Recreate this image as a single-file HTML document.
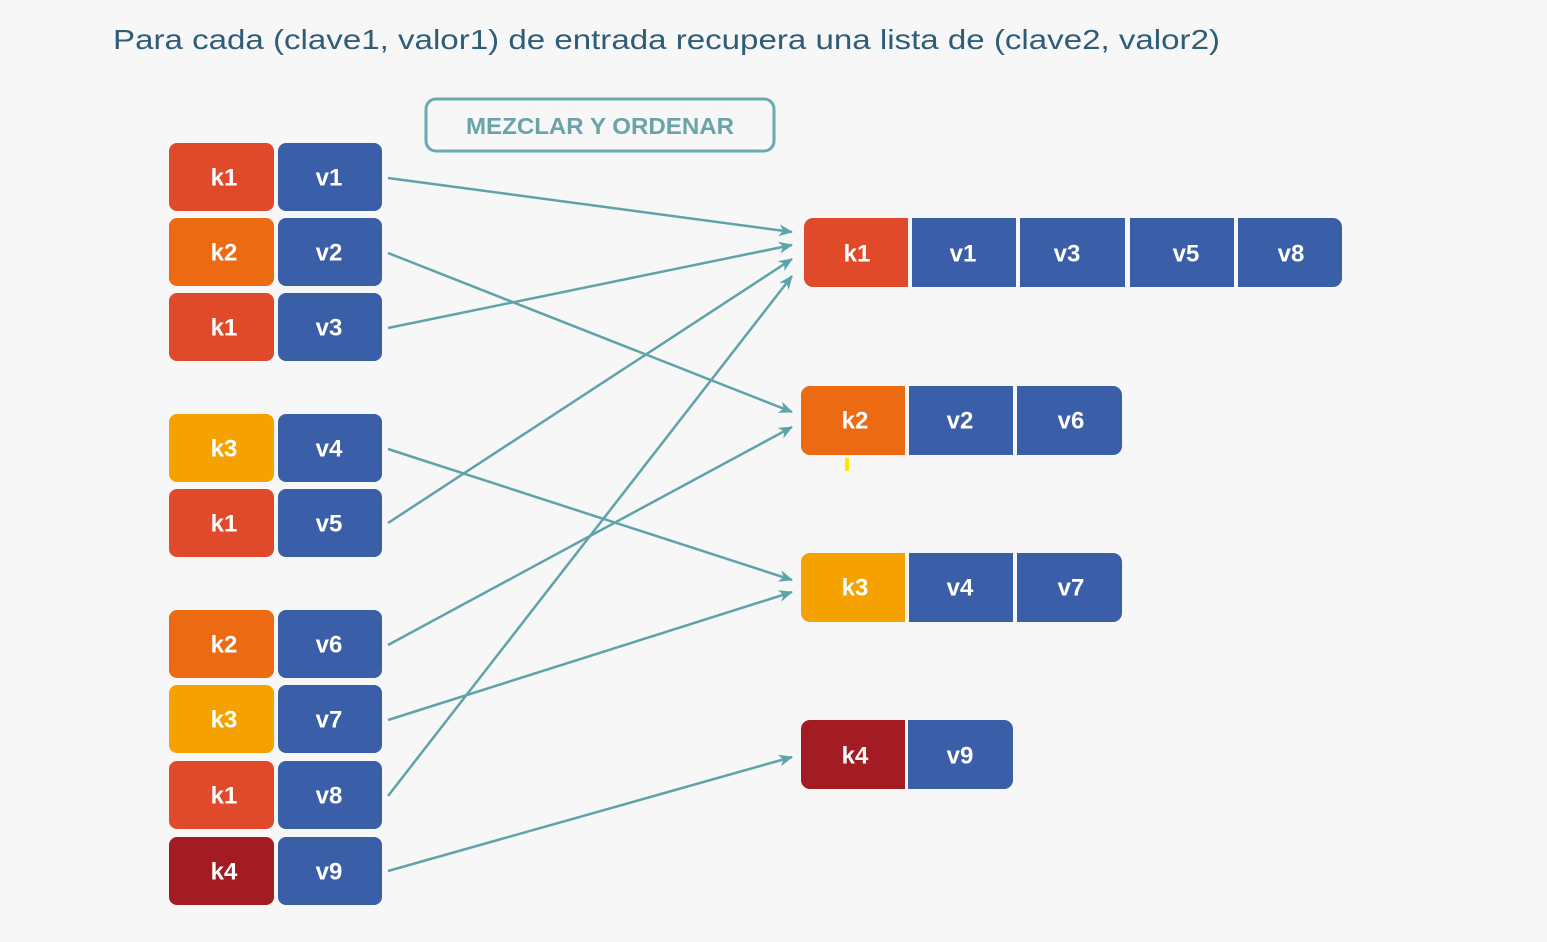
<!DOCTYPE html>
<html><head><meta charset="utf-8"><style>
html,body{margin:0;padding:0;background:#f7f7f7;}
svg{display:block}
.t{font-family:"Liberation Sans",sans-serif;font-weight:bold;font-size:24px;fill:#fff;text-anchor:middle;dominant-baseline:central}
</style></head><body>
<svg width="1547" height="942" viewBox="0 0 1547 942" xmlns="http://www.w3.org/2000/svg">
<rect width="1547" height="942" fill="#f7f7f7"/>
<defs>
<marker id="a" markerWidth="14" markerHeight="12" refX="13" refY="6" orient="auto" markerUnits="userSpaceOnUse">
<path d="M0,0 L14,6 L0,12 L4,6 Z" fill="#5fa3aa"/></marker>
</defs>
<text x="113" y="49" font-family="Liberation Sans,sans-serif" font-size="28" fill="#2f5d78" textLength="1107" lengthAdjust="spacingAndGlyphs">Para cada (clave1, valor1)  de entrada recupera una lista de (clave2, valor2)</text>
<rect x="426" y="99" width="348" height="52" rx="10" fill="none" stroke="#6aaab0" stroke-width="3"/>
<text x="600" y="126" font-family="Liberation Sans,sans-serif" font-weight="bold" font-size="23" fill="#6aa3a8" text-anchor="middle" dominant-baseline="central" textLength="268" lengthAdjust="spacingAndGlyphs">MEZCLAR Y ORDENAR</text>

<g fill="none" stroke="#5fa3aa" stroke-width="2.5" marker-end="url(#a)">
<line x1="388" y1="178" x2="792" y2="232"/>
<line x1="388" y1="328" x2="792" y2="245"/>
<line x1="388" y1="523" x2="792" y2="259"/>
<line x1="388" y1="796" x2="792" y2="276"/>
<line x1="388" y1="253" x2="792" y2="412"/>
<line x1="388" y1="645" x2="792" y2="427"/>
<line x1="388" y1="449" x2="792" y2="580"/>
<line x1="388" y1="720" x2="792" y2="592"/>
<line x1="388" y1="871" x2="792" y2="757"/>
</g>

<!-- left rows -->
<g>
<rect x="169" y="143" width="105" height="68" rx="8" fill="#e04a2b"/><rect x="278" y="143" width="104" height="68" rx="8" fill="#3b5ea8"/>
<rect x="169" y="218" width="105" height="68" rx="8" fill="#ec6a12"/><rect x="278" y="218" width="104" height="68" rx="8" fill="#3b5ea8"/>
<rect x="169" y="293" width="105" height="68" rx="8" fill="#e04a2b"/><rect x="278" y="293" width="104" height="68" rx="8" fill="#3b5ea8"/>
<rect x="169" y="414" width="105" height="68" rx="8" fill="#f5a200"/><rect x="278" y="414" width="104" height="68" rx="8" fill="#3b5ea8"/>
<rect x="169" y="489" width="105" height="68" rx="8" fill="#e04a2b"/><rect x="278" y="489" width="104" height="68" rx="8" fill="#3b5ea8"/>
<rect x="169" y="610" width="105" height="68" rx="8" fill="#ec6a12"/><rect x="278" y="610" width="104" height="68" rx="8" fill="#3b5ea8"/>
<rect x="169" y="685" width="105" height="68" rx="8" fill="#f5a200"/><rect x="278" y="685" width="104" height="68" rx="8" fill="#3b5ea8"/>
<rect x="169" y="761" width="105" height="68" rx="8" fill="#e04a2b"/><rect x="278" y="761" width="104" height="68" rx="8" fill="#3b5ea8"/>
<rect x="169" y="837" width="105" height="68" rx="8" fill="#a31c23"/><rect x="278" y="837" width="104" height="68" rx="8" fill="#3b5ea8"/>
</g>
<g class="t">
<text class="t" x="224" y="178">k1</text><text class="t" x="329" y="178">v1</text>
<text class="t" x="224" y="253">k2</text><text class="t" x="329" y="253">v2</text>
<text class="t" x="224" y="328">k1</text><text class="t" x="329" y="328">v3</text>
<text class="t" x="224" y="449">k3</text><text class="t" x="329" y="449">v4</text>
<text class="t" x="224" y="524">k1</text><text class="t" x="329" y="524">v5</text>
<text class="t" x="224" y="645">k2</text><text class="t" x="329" y="645">v6</text>
<text class="t" x="224" y="720">k3</text><text class="t" x="329" y="720">v7</text>
<text class="t" x="224" y="796">k1</text><text class="t" x="329" y="796">v8</text>
<text class="t" x="224" y="872">k4</text><text class="t" x="329" y="872">v9</text>
</g>

<!-- right rows -->
<defs>
<clipPath id="c1"><rect x="804" y="218" width="538" height="69" rx="9"/></clipPath>
<clipPath id="c2"><rect x="801" y="386" width="321" height="69" rx="9"/></clipPath>
<clipPath id="c3"><rect x="801" y="553" width="321" height="69" rx="9"/></clipPath>
<clipPath id="c4"><rect x="801" y="720" width="212" height="69" rx="9"/></clipPath>
</defs>
<g clip-path="url(#c1)">
<rect x="804" y="218" width="104" height="69" fill="#e04a2b"/>
<rect x="912" y="218" width="104" height="69" fill="#3b5ea8"/>
<rect x="1020" y="218" width="105" height="69" fill="#3b5ea8"/>
<rect x="1130" y="218" width="104" height="69" fill="#3b5ea8"/>
<rect x="1238" y="218" width="104" height="69" fill="#3b5ea8"/>
</g>
<g clip-path="url(#c2)">
<rect x="801" y="386" width="104" height="69" fill="#ec6a12"/>
<rect x="909" y="386" width="104" height="69" fill="#3b5ea8"/>
<rect x="1017" y="386" width="105" height="69" fill="#3b5ea8"/>
</g>
<g clip-path="url(#c3)">
<rect x="801" y="553" width="104" height="69" fill="#f5a200"/>
<rect x="909" y="553" width="104" height="69" fill="#3b5ea8"/>
<rect x="1017" y="553" width="105" height="69" fill="#3b5ea8"/>
</g>
<g clip-path="url(#c4)">
<rect x="801" y="720" width="104" height="69" fill="#a31c23"/>
<rect x="908" y="720" width="105" height="69" fill="#3b5ea8"/>
</g>
<text class="t" x="857" y="254">k1</text><text class="t" x="963" y="254">v1</text><text class="t" x="1067" y="254">v3</text><text class="t" x="1186" y="254">v5</text><text class="t" x="1291" y="254">v8</text>
<text class="t" x="855" y="421">k2</text><text class="t" x="960" y="421">v2</text><text class="t" x="1071" y="421">v6</text>
<text class="t" x="855" y="588">k3</text><text class="t" x="960" y="588">v4</text><text class="t" x="1071" y="588">v7</text>
<text class="t" x="855" y="756">k4</text><text class="t" x="960" y="756">v9</text>
<rect x="845" y="458" width="4" height="13" fill="#ffe600"/>
</svg>
</body></html>
